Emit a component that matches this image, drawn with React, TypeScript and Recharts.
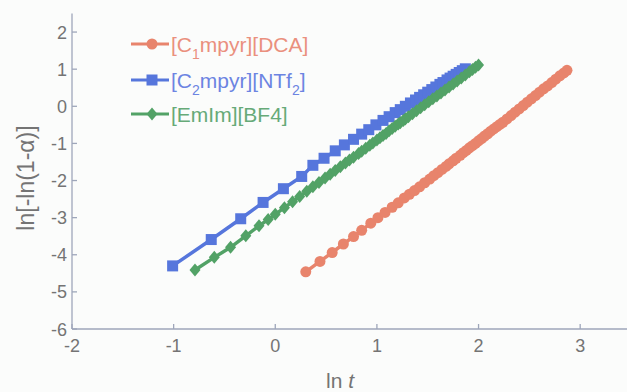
import React from "react";
import { LineChart, Line, XAxis, YAxis } from "recharts";

const xTicks = [-2, -1, 0, 1, 2, 3];
const yTicks = [-6, -5, -4, -3, -2, -1, 0, 1, 2];

const seriesNames = ["[C1mpyr][DCA]", "[C2mpyr][NTf2]", "[EmIm][BF4]"];

// [C1mpyr][DCA] : ln t , ln[-ln(1-α)]
const dcaX = [0.30, 0.44, 0.56, 0.67, 0.77, 0.85, 0.94, 1.01, 1.08, 1.15, 1.21, 1.27, 1.32, 1.37, 1.42, 1.47, 1.52, 1.56, 1.60, 1.64, 1.68, 1.71, 1.75, 1.78, 1.82, 1.85, 1.88, 1.91, 1.94, 1.97, 2.00, 2.03, 2.06, 2.09, 2.12, 2.15, 2.18, 2.21, 2.24, 2.28, 2.32, 2.36, 2.40, 2.44, 2.48, 2.52, 2.56, 2.60, 2.64, 2.68, 2.72, 2.76, 2.80, 2.84, 2.87];
const dcaY = [-4.46, -4.18, -3.94, -3.71, -3.51, -3.34, -3.15, -3.00, -2.86, -2.72, -2.60, -2.47, -2.37, -2.27, -2.17, -2.06, -1.96, -1.87, -1.79, -1.70, -1.62, -1.55, -1.47, -1.40, -1.32, -1.25, -1.19, -1.12, -1.06, -1.00, -0.93, -0.87, -0.80, -0.74, -0.67, -0.61, -0.55, -0.49, -0.43, -0.34, -0.25, -0.16, -0.07, 0.02, 0.11, 0.20, 0.29, 0.38, 0.47, 0.55, 0.64, 0.73, 0.82, 0.90, 0.97];

// [C2mpyr][NTf2]
const ntfX = [-1.01, -0.63, -0.34, -0.12, 0.08, 0.26, 0.37, 0.48, 0.59, 0.68, 0.77, 0.85, 0.92, 0.99, 1.06, 1.12, 1.18, 1.23, 1.28, 1.33, 1.38, 1.42, 1.46, 1.50, 1.54, 1.58, 1.62, 1.65, 1.69, 1.72, 1.75, 1.78, 1.81, 1.84, 1.87];
const ntfY = [-4.30, -3.59, -3.03, -2.59, -2.22, -1.89, -1.59, -1.40, -1.20, -1.04, -0.89, -0.75, -0.63, -0.50, -0.38, -0.28, -0.17, -0.09, 0.00, 0.09, 0.17, 0.24, 0.31, 0.38, 0.45, 0.52, 0.59, 0.64, 0.71, 0.76, 0.81, 0.86, 0.91, 0.96, 1.01];

// [EmIm][BF4]
const bf4X = [-0.79, -0.60, -0.44, -0.29, -0.16, -0.07, 0.00, 0.09, 0.17, 0.24, 0.31, 0.37, 0.43, 0.49, 0.54, 0.59, 0.64, 0.69, 0.73, 0.77, 0.82, 0.85, 0.89, 0.93, 0.96, 1.00, 1.03, 1.06, 1.09, 1.12, 1.15, 1.18, 1.21, 1.23, 1.26, 1.28, 1.31, 1.35, 1.39, 1.43, 1.47, 1.51, 1.55, 1.59, 1.63, 1.67, 1.71, 1.75, 1.79, 1.83, 1.87, 1.91, 1.94, 1.97, 2.00];
const bf4Y = [-4.41, -4.07, -3.80, -3.49, -3.22, -3.05, -2.91, -2.73, -2.57, -2.43, -2.29, -2.17, -2.05, -1.93, -1.83, -1.73, -1.63, -1.53, -1.45, -1.37, -1.27, -1.21, -1.13, -1.05, -0.99, -0.91, -0.85, -0.79, -0.73, -0.66, -0.60, -0.54, -0.48, -0.44, -0.38, -0.34, -0.28, -0.20, -0.12, -0.04, 0.04, 0.12, 0.20, 0.28, 0.36, 0.44, 0.52, 0.60, 0.68, 0.76, 0.84, 0.93, 0.99, 1.05, 1.11];

const toRows = (xs: number[], ys: number[]) => xs.map((x, i) => ({ x, y: ys[i] }));
const dcaData = toRows(dcaX, dcaY);
const ntfData = toRows(ntfX, ntfY);
const bf4Data = toRows(bf4X, bf4Y);

const RED = "#e8846c";
const BLUE = "#5676dc";
const GREEN = "#52a266";
const RED_T = "#ea907e";
const BLUE_T = "#6c84e2";
const GREEN_T = "#66aa78";
const AXIS = "#9ea6ba";
const TEXT = "#747474";
const FONT = "'Liberation Sans', Arial, Helvetica, sans-serif";

const CircleDot = (p: any) => {
  const { cx, cy, index } = p;
  if (cx == null || cy == null) return <g key={index} />;
  return <circle key={index} cx={cx} cy={cy} r={5.5} fill={RED} stroke="none" />;
};
const SquareDot = (p: any) => {
  const { cx, cy, index } = p;
  if (cx == null || cy == null) return <g key={index} />;
  return <rect key={index} x={cx - 5.5} y={cy - 5.5} width={11} height={11} fill={BLUE} stroke="none" />;
};
const DiamondDot = (p: any) => {
  const { cx, cy, index } = p;
  if (cx == null || cy == null) return <g key={index} />;
  return (
    <polygon
      key={index}
      points={`${cx},${cy - 6.5} ${cx + 5.5},${cy} ${cx},${cy + 6.5} ${cx - 5.5},${cy}`}
      fill={GREEN}
      stroke="none"
    />
  );
};

const XTick = (p: any) => {
  const { x, y, payload } = p;
  return (
    <g>
      <line x1={x} y1={y} x2={x} y2={y - 5} stroke={AXIS} strokeWidth={1.3} />
      <text x={x} y={y + 23} textAnchor="middle" fill={TEXT} fontSize={18} fontFamily={FONT}>
        {payload.value}
      </text>
    </g>
  );
};
const YTick = (p: any) => {
  const { x, y, payload } = p;
  return (
    <g>
      <line x1={x} y1={y} x2={x + 5} y2={y} stroke={AXIS} strokeWidth={1.3} />
      <text x={x - 5} y={y + 6.5} textAnchor="end" fill={TEXT} fontSize={18} fontFamily={FONT}>
        {payload.value}
      </text>
    </g>
  );
};

const legendRows = [
  { parts: [["[C", 0], ["1", 1], ["mpyr][DCA]", 0]], color: RED, textColor: RED_T, shape: "circle", y: 44 },
  { parts: [["[C", 0], ["2", 1], ["mpyr][NTf", 0], ["2", 1], ["]", 0]], color: BLUE, textColor: BLUE_T, shape: "square", y: 80 },
  { parts: [["[EmIm][BF4]", 0]], color: GREEN, textColor: GREEN_T, shape: "diamond", y: 114 },
];

const LegendSvg = () => (
  <g>
    {legendRows.map((r, i) => {
      const lx0 = 131;
      const lx1 = 169;
      const mx = 152;
      const y = r.y;
      let prevSub = 0;
      return (
        <g key={i}>
          <line x1={lx0} y1={y} x2={lx1} y2={y} stroke={r.color} strokeWidth={3} />
          {r.shape === "circle" && <circle cx={mx} cy={y} r={5.5} fill={r.color} />}
          {r.shape === "square" && <rect x={mx - 5.5} y={y - 5.5} width={11} height={11} fill={r.color} />}
          {r.shape === "diamond" && (
            <polygon points={`${mx},${y - 6.5} ${mx + 5.5},${y} ${mx},${y + 6.5} ${mx - 5.5},${y}`} fill={r.color} />
          )}
          <text x={171} y={y + 7.5} fill={r.textColor} fontSize={21} fontFamily={FONT}>
            {r.parts.map((pt, j) => {
              const isSub = pt[1] === 1;
              const dy = isSub ? (prevSub ? 0 : 7) : prevSub ? -7 : 0;
              prevSub = isSub ? 1 : 0;
              return (
                <tspan key={j} dy={dy} fontSize={isSub ? 14 : 21}>
                  {pt[0] as string}
                </tspan>
              );
            })}
          </text>
        </g>
      );
    })}
  </g>
);

export default function App() {
  return (
    <div style={{ position: "absolute", left: 0, top: 0, width: 627, height: 392, overflow: "hidden", background: "#fbfcfb" }}>
      <LineChart width={640} height={392} margin={{ top: 13.5, right: 9, bottom: 0, left: 0 }}>
        <XAxis
          type="number"
          dataKey="x"
          domain={[-2, 3.5]}
          ticks={xTicks}
          allowDataOverflow
          height={63}
          tickSize={0}
          tickMargin={0}
          tickLine={false}
          axisLine={{ stroke: AXIS, strokeWidth: 1.3 }}
          tick={XTick}
          interval={0}
        />
        <YAxis
          type="number"
          dataKey="y"
          domain={[-6, 2.5]}
          ticks={yTicks}
          allowDataOverflow
          width={72}
          tickSize={0}
          tickMargin={0}
          tickLine={false}
          axisLine={{ stroke: AXIS, strokeWidth: 1.3 }}
          tick={YTick}
          interval={0}
        />
        <Line data={dcaData} dataKey="y" name={seriesNames[0]} stroke={RED} strokeWidth={3.5} dot={CircleDot} isAnimationActive={false} />
        <Line data={ntfData} dataKey="y" name={seriesNames[1]} stroke={BLUE} strokeWidth={3.5} dot={SquareDot} isAnimationActive={false} />
        <Line data={bf4Data} dataKey="y" name={seriesNames[2]} stroke={GREEN} strokeWidth={3.5} dot={DiamondDot} isAnimationActive={false} />
        <LegendSvg />
        <text x={26} y={178} transform="rotate(-90 26 178)" textAnchor="middle" dominantBaseline="central" fill={TEXT} fontSize={23} fontFamily={FONT}>
          ln[-ln(1-α)]
        </text>
        <text x={340} y={388} textAnchor="middle" fill={TEXT} fontSize={21} fontFamily={FONT}>
          ln <tspan fontStyle="italic">t</tspan>
        </text>
      </LineChart>
    </div>
  );
}
